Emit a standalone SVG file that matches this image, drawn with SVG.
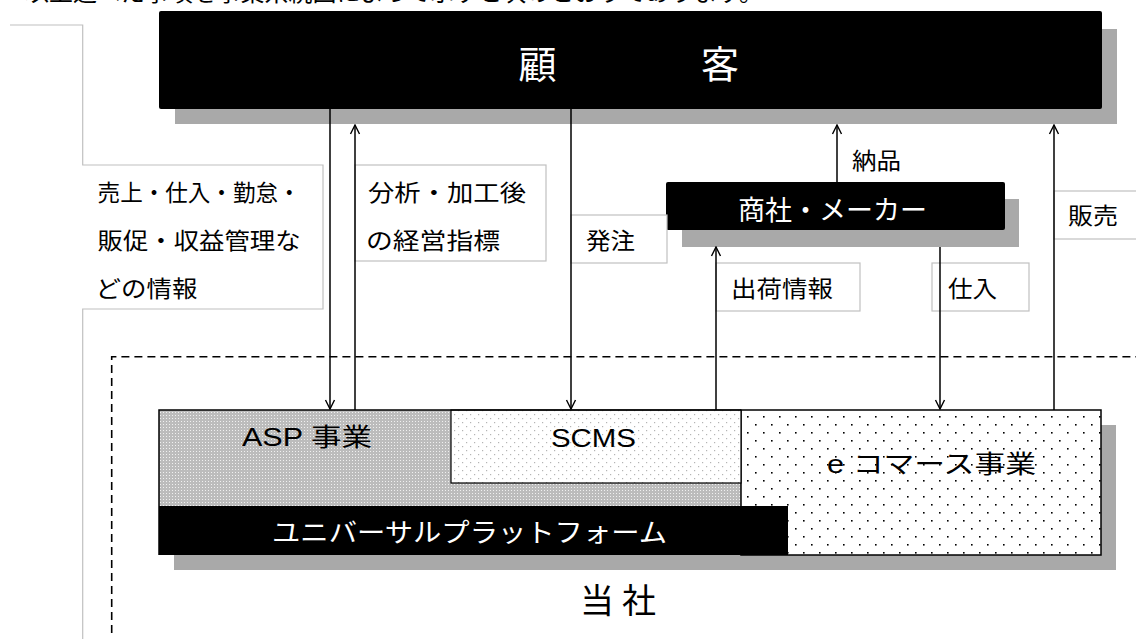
<svg xmlns="http://www.w3.org/2000/svg" width="1136" height="639" viewBox="0 0 1136 639">
<style>
.jp{font-family:"Noto Sans CJK JP","Noto Sans CJK SC",sans-serif;}
.lat{font-family:"Liberation Sans","Noto Sans CJK JP",sans-serif;}
.lbl{font-size:23px;fill:#000;}
.tbox{fill:#fff;stroke:#c0c0c0;stroke-width:1.2;}
.shadow{fill:#a9a9a9;}
.conn{stroke:#000;stroke-width:1.5;fill:none;}
</style>
<defs>
<marker id="arr" viewBox="-11 -6 12 12" refX="0" refY="0" markerWidth="12" markerHeight="12" markerUnits="userSpaceOnUse" orient="auto">
<path d="M-9,-4.5 L0,0 L-9,4.5" fill="none" stroke="#000" stroke-width="1.4"/>
</marker>
<pattern id="ecomDots" width="16" height="16" patternUnits="userSpaceOnUse" x="741" y="410">
<rect width="16" height="16" fill="#fff"/>
<rect x="6" y="6" width="1.6" height="1.6" fill="#000"/>
<rect x="14" y="14" width="1.6" height="1.6" fill="#000"/>
</pattern>
<pattern id="scmsDots" width="8" height="8" patternUnits="userSpaceOnUse">
<rect width="8" height="8" fill="#fff"/>
<rect x="2" y="2" width="1.2" height="1.2" fill="#b4b4b4"/>
<rect x="6" y="6" width="1.2" height="1.2" fill="#b4b4b4"/>
</pattern>
<pattern id="aspDots" width="3" height="3" patternUnits="userSpaceOnUse">
<rect width="3" height="3" fill="#bcbcbc"/>
<rect x="1" y="1" width="1" height="1" fill="#f0f0f0"/>
</pattern>
</defs>
<rect width="1136" height="639" fill="#fff"/>

<text class="jp" x="25" y="1" font-size="24" textLength="738" lengthAdjust="spacingAndGlyphs">以上述べた事項を事業系統図によって示すと次のとおりであります。</text>

<g id="frame">
<path d="M10,25 H82.7 V165 H323 V309 H82.7 V639" fill="none" stroke="#c0c0c0" stroke-width="1.2"/>
<path d="M111.7,633 V356.7 H1136" fill="none" stroke="#000" stroke-width="1.6" stroke-dasharray="8 5"/>
</g>

<g id="customer">
<rect class="shadow" x="175" y="29" width="942" height="95"/>
<rect x="159" y="11" width="943" height="98" rx="2" fill="#000"/>
<text class="jp" x="518.5" y="78" font-size="38" fill="#fff" textLength="220.5" lengthAdjust="spacing">顧客</text>
</g>

<g id="maker">
<rect class="shadow" x="682" y="199" width="337" height="48"/>
<rect x="666" y="182" width="339" height="48" rx="2" fill="#000"/>
<text class="jp" x="738" y="220" font-size="27" fill="#fff" textLength="189" lengthAdjust="spacingAndGlyphs">商社・メーカー</text>
</g>

<g id="label-info">
<text class="jp lbl" x="97.6" y="200.7" textLength="203" lengthAdjust="spacingAndGlyphs">売上・仕入・勤怠・</text>
<text class="jp lbl" x="97.6" y="248.7" textLength="203" lengthAdjust="spacingAndGlyphs">販促・収益管理な</text>
<text class="jp lbl" x="95.6" y="296.7" textLength="102" lengthAdjust="spacingAndGlyphs">どの情報</text>
</g>
<g id="label-analysis">
<rect class="tbox" x="355" y="165" width="191" height="96"/>
<text class="jp lbl" x="368" y="200.7" textLength="158" lengthAdjust="spacingAndGlyphs">分析・加工後</text>
<text class="jp lbl" x="366" y="248.7" textLength="134" lengthAdjust="spacingAndGlyphs">の経営指標</text>
</g>
<g id="label-order">
<rect class="tbox" x="571" y="215" width="96" height="48"/>
<text class="jp lbl" x="586" y="248.7" textLength="49" lengthAdjust="spacingAndGlyphs">発注</text>
</g>
<g id="label-shipping">
<rect class="tbox" x="716" y="263" width="144" height="48"/>
<text class="jp lbl" x="731" y="296.7" textLength="102" lengthAdjust="spacingAndGlyphs">出荷情報</text>
</g>
<g id="label-purchase">
<rect class="tbox" x="932" y="263" width="97" height="48"/>
<text class="jp lbl" x="948" y="296.7" textLength="49" lengthAdjust="spacingAndGlyphs">仕入</text>
</g>
<g id="label-sales">
<rect class="tbox" x="1054" y="191" width="100" height="48"/>
<text class="jp lbl" x="1068" y="223.7" textLength="50" lengthAdjust="spacingAndGlyphs">販売</text>
</g>
<g id="label-delivery">
<text class="jp lbl" x="852" y="168.7" textLength="49" lengthAdjust="spacingAndGlyphs">納品</text>
</g>

<g id="company">
<rect class="shadow" x="174" y="425" width="942" height="145"/>
<rect x="159" y="410" width="582" height="96" fill="url(#aspDots)"/>
<rect x="741" y="410" width="360" height="145" fill="url(#ecomDots)" stroke="#000" stroke-width="1.5"/>
<rect x="451" y="410" width="290" height="73" fill="url(#scmsDots)" stroke="#000" stroke-width="1.2"/>
<rect x="159" y="506" width="629" height="49" fill="#000"/>
<path d="M159,555 V410 H741" fill="none" stroke="#000" stroke-width="1.5"/>
<text class="lat" x="242" y="446" font-size="25" textLength="130" lengthAdjust="spacingAndGlyphs">ASP 事業</text>
<text class="lat" x="551" y="447" font-size="25" textLength="85" lengthAdjust="spacingAndGlyphs">SCMS</text>
<text class="lat" x="827" y="472.5" font-size="25" textLength="209" lengthAdjust="spacingAndGlyphs">e コマース事業</text>
<text class="jp" x="272" y="542" font-size="26" fill="#fff" textLength="395" lengthAdjust="spacingAndGlyphs">ユニバーサルプラットフォーム</text>
<text class="jp" x="580" y="613" font-size="34" textLength="76" lengthAdjust="spacing">当社</text>
</g>

<g id="connectors">
<line class="conn" x1="330" y1="109" x2="330" y2="409" marker-end="url(#arr)"/>
<line class="conn" x1="355" y1="410" x2="355" y2="125" marker-end="url(#arr)"/>
<line class="conn" x1="571" y1="109" x2="571" y2="409" marker-end="url(#arr)"/>
<line class="conn" x1="716" y1="410" x2="716" y2="247" marker-end="url(#arr)"/>
<line class="conn" x1="837" y1="182" x2="837" y2="125" marker-end="url(#arr)"/>
<line class="conn" x1="940" y1="247" x2="940" y2="409" marker-end="url(#arr)"/>
<line class="conn" x1="1054" y1="410" x2="1054" y2="125" marker-end="url(#arr)"/>
</g>
</svg>
